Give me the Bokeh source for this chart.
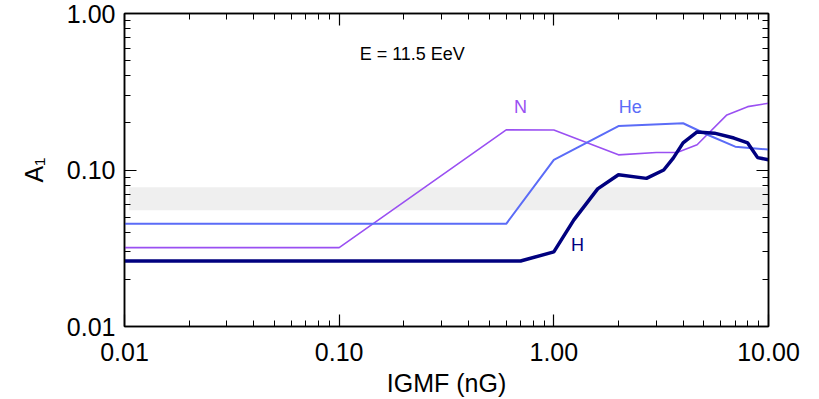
from bokeh.plotting import figure
from bokeh.models import LogAxis, FixedTicker
from bokeh.core.properties import value
from bokeh.embed import file_html
from bokeh.resources import INLINE

# Dipole amplitude A1 versus IGMF strength at E = 11.5 EeV
h_igmf = [0.01, 0.7, 1.0, 1.24, 1.6, 2.0, 2.7, 3.25, 3.6, 4.0, 4.65, 5.6, 6.9, 8.0, 8.9, 10.0]
h_a1 = [0.0262, 0.0262, 0.0300, 0.0480, 0.0757, 0.0933, 0.0884, 0.1000, 0.1190, 0.1490,
        0.1750, 0.1720, 0.1600, 0.1490, 0.1200, 0.1163]

he_igmf = [0.01, 0.6, 1.0, 2.0, 4.0, 5.2, 7.0, 10.0]
he_a1 = [0.0453, 0.0453, 0.1160, 0.1910, 0.1990, 0.1680, 0.1410, 0.1350]

n_igmf = [0.01, 0.1, 0.6, 1.0, 2.0, 3.0, 3.75, 4.65, 6.4, 8.0, 10.0]
n_a1 = [0.0319, 0.0319, 0.1806, 0.1800, 0.1250, 0.1294, 0.1294, 0.1450, 0.2250, 0.2540, 0.2670]

# shaded reference band
band_x = [0.0105, 10.0]
band_lo = [0.0553, 0.0553]
band_hi = [0.0775, 0.0775]

x_ticks = [0.01, 0.1, 1.0, 10.0]
x_tick_labels = ["0.01", "0.10", "1.00", "10.00"]
y_ticks = [0.01, 0.1, 1.0]
y_tick_labels = ["0.01", "0.10", "1.00"]

FONT = "Liberation Sans"
NAVY = "#00007f"
BLUE = "#5b6cf7"
PURPLE = "#9a50f2"

def minors(lo_exp, hi_exp):
    out = []
    for e in range(lo_exp, hi_exp):
        for m in range(2, 10):
            out.append(m * 10.0 ** e)
    return out

p = figure(width=819, height=399, x_axis_type="log", y_axis_type="log",
           x_range=(0.01, 10.0), y_range=(0.01, 1.0),
           output_backend="svg", toolbar_location=None,
           min_border_left=124, min_border_right=51,
           min_border_top=13, min_border_bottom=72)
p.background_fill_color = "white"
p.border_fill_color = "white"
p.outline_line_color = "black"
p.outline_line_width = 1.5
p.xgrid.visible = False
p.ygrid.visible = False

p.varea(x=band_x, y1=band_lo, y2=band_hi, fill_color="#efefef")

p.line(n_igmf, n_a1, line_color=PURPLE, line_width=1.6)
p.line(he_igmf, he_a1, line_color=BLUE, line_width=2.0)
p.line(h_igmf, h_a1, line_color=NAVY, line_width=3.5)

p.text(x=[0.70], y=[0.253], text=["N"], text_color=PURPLE, text_font=value(FONT),
       text_font_size="18px", text_align="center", text_baseline="middle")
p.text(x=[2.27], y=[0.253], text=["He"], text_color=BLUE, text_font=value(FONT),
       text_font_size="18px", text_align="center", text_baseline="middle")
p.text(x=[1.29], y=[0.033], text=["H"], text_color=NAVY, text_font=value(FONT),
       text_font_size="18px", text_align="center", text_baseline="middle")
p.text(x=[0.219], y=[0.55], text=["E = 11.5 EeV"], text_color="black", text_font=value(FONT),
       text_font_size="18px", text_align="center", text_baseline="middle")

xt = FixedTicker(ticks=x_ticks, minor_ticks=minors(-2, 1))
yt = FixedTicker(ticks=y_ticks, minor_ticks=minors(-2, 0))

def style(ax, labels):
    ax.major_tick_in = 12
    ax.major_tick_out = 0
    ax.minor_tick_in = 6
    ax.minor_tick_out = 0
    ax.axis_line_color = "black"
    ax.axis_line_width = 1.5
    ax.major_tick_line_width = 1.2
    ax.minor_tick_line_width = 1.0
    if labels:
        ax.major_label_text_font = FONT
        ax.major_label_text_font_size = "25px"
        ax.major_label_text_color = "black"
        ax.axis_label_text_font = FONT
        ax.axis_label_text_font_size = "25px"
        ax.axis_label_text_font_style = "normal"
        ax.axis_label_text_color = "black"
    else:
        ax.major_label_text_font_size = "0px"
        ax.major_label_standoff = 0

xa = p.xaxis[0]
xa.ticker = xt
xa.major_label_overrides = dict(zip(x_ticks, x_tick_labels))
xa.axis_label = "IGMF (nG)"
style(xa, True)
xa.major_label_standoff = 16
xa.axis_label_standoff = 5

ya = p.yaxis[0]
ya.ticker = yt
ya.major_label_overrides = dict(zip(y_ticks, y_tick_labels))
ya.axis_label = "A\u2081"
style(ya, True)
ya.major_label_standoff = 9
ya.axis_label_standoff = 16

top = LogAxis(ticker=xt, major_label_overrides={t: "" for t in x_ticks})
style(top, False)
p.add_layout(top, "above")
right = LogAxis(ticker=yt, major_label_overrides={t: "" for t in y_ticks})
style(right, False)
p.add_layout(right, "right")

open("out.html", "w").write(file_html(p, INLINE))
